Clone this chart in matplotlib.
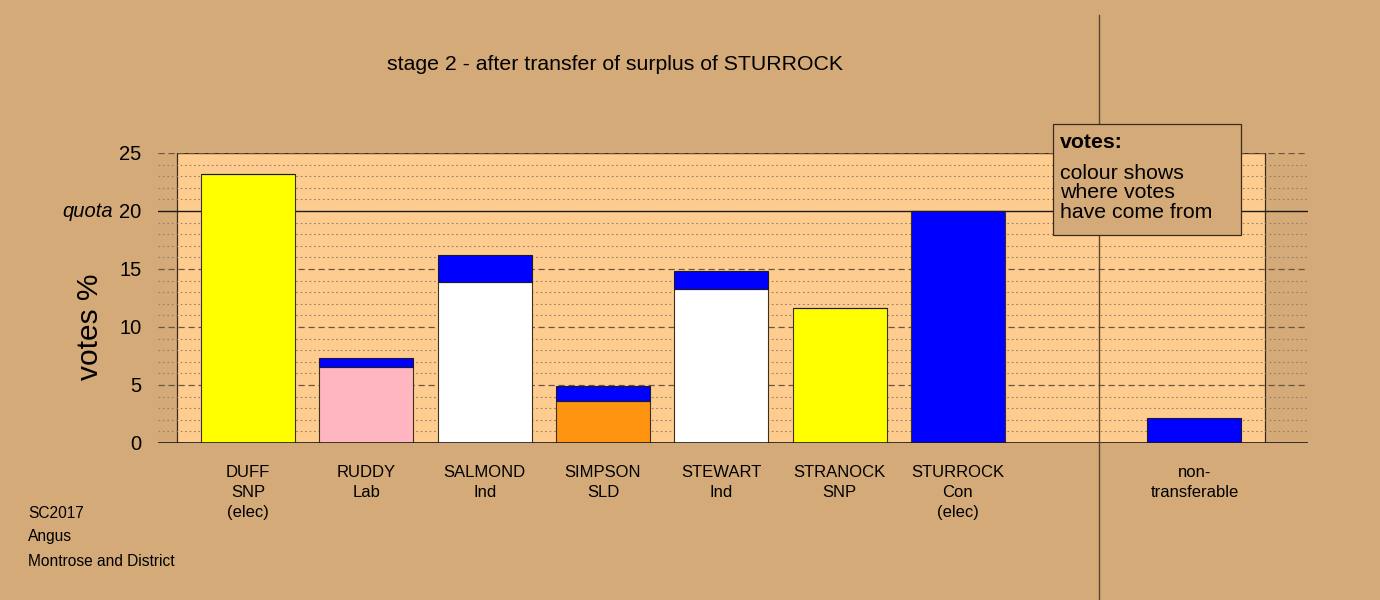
import matplotlib
matplotlib.use("Agg")
import matplotlib.pyplot as plt
from matplotlib.patches import Rectangle

plt.rcParams['font.family'] = ['Liberation Sans', 'DejaVu Sans']

# data
labels = ["DUFF\nSNP\n(elec)", "RUDDY\nLab", "SALMOND\nInd", "SIMPSON\nSLD",
          "STEWART\nInd", "STRANOCK\nSNP", "STURROCK\nCon\n(elec)", "non-\ntransferable"]
positions = [0, 1, 2, 3, 4, 5, 6, 8]
own_votes = [23.2, 6.55, 13.88, 3.62, 13.28, 11.6, 20.0, 0.0]
own_colours = ["#ffff00", "#ffb6c1", "#ffffff", "#ff9410", "#ffffff", "#ffff00", "#0000ff", "#0000ff"]
transferred = [0.0, 0.78, 2.32, 1.29, 1.55, 0.05, 0.0, 2.16]
transfer_colour = "#0000ff"
quota = 20
title = "stage 2 - after transfer of surplus of STURROCK"
footer = ["SC2017", "Angus", "Montrose and District"]

bg = "#d4aa78"
panel = "#ffcc8f"

W, H = 1380, 600
fig = plt.figure(figsize=(13.8, 6), dpi=100, facecolor=bg)
# axes spans the gridline extent (px 158..1308, 153..443)
ax = fig.add_axes([158 / W, 1 - 443 / H, (1308 - 158) / W, (443 - 153) / H])
ax.set_facecolor("none")
for s in ax.spines.values():
    s.set_visible(False)

ax.set_xlim(-0.761, 8.96)
ax.set_ylim(0, 25)

# panel
ax.add_patch(Rectangle((-0.6, 0), 9.2, 25, facecolor=panel, edgecolor="#3a2a1a",
                       linewidth=0.9, zorder=0))

# grid
for v in range(1, 25):
    if v % 5 == 0:
        continue
    ax.axhline(v, color="#948068", lw=0.8, ls=(0, (1.5, 2.5)), zorder=1)
for v in [5, 10, 15, 25]:
    ax.axhline(v, color="#6a5540", lw=0.9, ls=(0, (5, 3)), zorder=1)
ax.axhline(quota, color="#1a1a1a", lw=1.0, zorder=1)
ax.axhline(0, color="#1a1a1a", lw=1.2, zorder=3)

# bars
w = 0.795
ax.bar(positions, own_votes, width=w, color=own_colours, edgecolor="#3a3020",
       linewidth=0.8, zorder=2)
ax.bar(positions, transferred, bottom=own_votes, width=w, color=transfer_colour,
       edgecolor="#1a1a2a", linewidth=0.8, zorder=2)

# separator line between candidates and non-transferable
ax.axvline(7.19, ymin=-0.54, ymax=1.476, color="#5a4530", lw=1.0, clip_on=False, zorder=4)

# y ticks
ax.set_yticks([0, 5, 10, 15, 20, 25])
ax.tick_params(axis="y", length=0, labelsize=14.5, pad=12)
ax.set_xticks([])
fig.text(113 / W, 1 - 212 / H, "quota", style="italic", fontsize=14.5, ha="right", va="center")
fig.text(90 / W, 1 - 327 / H, "votes %", rotation=90, fontsize=21.5, ha="center", va="center")

# category labels
for p, lab in zip(positions, labels):
    ax.text(p, -1.9, lab, ha="center", va="top", fontsize=12, linespacing=1.42)

fig.text(615 / W, 1 - 64 / H, title, ha="center", va="center", fontsize=15.3)
for i, t in enumerate(footer):
    fig.text(28 / W, 1 - (513 + 24 * i) / H, t, ha="left", va="center", fontsize=11.2)

# legend box
bx0, by0, bx1, by1 = 1053, 124, 1241, 235
fig.add_artist(Rectangle((bx0 / W, 1 - by1 / H), (bx1 - bx0) / W, (by1 - by0) / H,
                         transform=fig.transFigure, facecolor=bg, edgecolor="#3a2a1a",
                         linewidth=0.9, zorder=5))
fig.text(1060 / W, 1 - 142 / H, "votes:", fontsize=15.3, fontweight="bold",
         ha="left", va="center", zorder=6)
fig.text(1060 / W, 1 - 193 / H, "colour shows\nwhere votes\nhave come from",
         fontsize=15.3, ha="left", va="center", linespacing=1.05, zorder=6)

fig.savefig("out.png", dpi=100, facecolor=bg)
